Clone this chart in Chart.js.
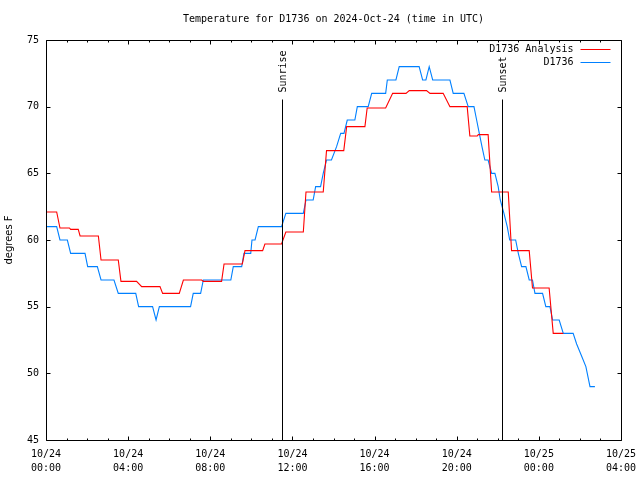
<!DOCTYPE html>
<html>
<head>
<meta charset="utf-8">
<script src="https://cdn.jsdelivr.net/npm/chart.js@4"></script>
<style>
  html, body { margin: 0; padding: 0; background: #fff; }
  #wrap { width: 640px; height: 480px; }
</style>
</head>
<body>
<div id="wrap"><canvas id="tempChart" width="640" height="480"></canvas></div>
<script>
// ---- Data (hours since 10/24 00:00 UTC, degrees F) ----
const analysisHours = [0, 0.52, 0.68, 1.14, 1.2, 1.57, 1.66, 2.55, 2.68, 3.52, 3.65, 4.41, 4.66, 5.55,
  5.68, 6.49, 6.69, 7.58, 7.66, 8.55, 8.67, 9.56, 9.69, 10.55, 10.66, 11.47, 11.68, 12.53, 12.66, 13.5,
  13.66, 14.5, 14.64, 15.53, 15.64, 16.54, 16.88, 17.53, 17.69, 18.53, 18.7, 19.34, 19.67, 20.51,
  20.64, 21.0, 21.05, 21.53, 21.7, 22.51, 22.67, 23.53, 23.69, 24.5, 24.7, 25.19];
const analysisTemps = [62.1, 62.1, 60.9, 60.9, 60.8, 60.8, 60.3, 60.3, 58.5, 58.5, 56.9, 56.9, 56.5, 56.5,
  56.0, 56.0, 57.0, 57.0, 56.9, 56.9, 58.2, 58.2, 59.2, 59.2, 59.7, 59.7, 60.6, 60.6, 63.6, 63.6,
  66.7, 66.7, 68.5, 68.5, 69.9, 69.9, 71.0, 71.0, 71.2, 71.2, 71.0, 71.0, 70.0, 70.0,
  67.8, 67.8, 67.9, 67.9, 63.6, 63.6, 59.2, 59.2, 56.4, 56.4, 53.0, 53.0];

const obsHours = [0, 0.52, 0.68, 1.04, 1.2, 1.9, 2.03, 2.5, 2.68, 3.31, 3.52, 4.37, 4.51, 5.19, 5.36, 5.52,
  7.04, 7.17, 7.53, 7.66, 9.0, 9.12, 9.53, 9.64, 9.97, 10.03, 10.18, 10.34, 11.47, 11.68, 12.53, 12.66,
  13.01, 13.13, 13.37, 13.5, 13.66, 13.9, 14.15, 14.35, 14.51, 14.67, 15.04, 15.16, 15.69, 15.86,
  16.54, 16.62, 17.04, 17.2, 18.17, 18.34, 18.5, 18.66, 18.83, 19.67, 19.83, 20.35, 20.56, 20.84,
  20.97, 21.1, 21.23, 21.37, 21.53, 21.7, 21.86, 22.02, 22.12, 22.3, 22.46, 22.58, 22.87, 23.0,
  23.16, 23.37, 23.53, 23.69, 23.81, 24.18, 24.34, 24.54, 24.67, 24.99, 25.19, 25.67, 25.84,
  26.08, 26.29, 26.49, 26.73];
const obsTemps = [61, 61, 60, 60, 59, 59, 58, 58, 57, 57, 56, 56, 55, 55, 54, 55,
  55, 56, 56, 57, 57, 58, 58, 59, 59, 60, 60, 61, 61, 62, 62, 63,
  63, 64, 64, 65, 66, 66, 67, 68, 68, 69, 69, 70, 70, 71,
  71, 72, 72, 73, 73, 72, 72, 73, 72, 72, 71, 71, 70, 70,
  69, 68, 67, 66, 66, 65, 65, 64, 63, 62, 61, 60, 60, 59,
  58, 58, 57, 57, 56, 56, 55, 55, 54, 54, 53, 53, 52.2,
  51.3, 50.5, 49, 49];

const xTickLabels = [
  ['10/24', '00:00'], ['10/24', '04:00'], ['10/24', '08:00'], ['10/24', '12:00'],
  ['10/24', '16:00'], ['10/24', '20:00'], ['10/25', '00:00'], ['10/25', '04:00']
];
const sunEvents = ['Sunrise', 'Sunset'];
const sunHours  = [11.47, 22.21];

const seriesNames = ['D1736 Analysis', 'D1736'];
const chartTitle  = 'Temperature for D1736 on 2024-Oct-24 (time in UTC)';

// ---- Axis limits ----
const X_MIN = 0, X_MAX = 28, X_STEP = 4;
const Y_MIN = 45, Y_MAX = 75, Y_STEP = 5;

const MONO = '"DejaVu Sans Mono", "Liberation Mono", monospace';

const toPoints = (xs, ys) => xs.map((x, i) => ({ x, y: ys[i] }));

// gnuplot-ish frame: border box, inward ticks, sun markers, key, title
const gnuplotFrame = {
  id: 'gnuplotFrame',
  afterDatasetsDraw(chart) {
    const { ctx, chartArea: a, scales: { x, y } } = chart;
    const L = Math.round(a.left) + 0.5, R = Math.round(a.right) + 0.5;
    const T = Math.round(a.top) + 0.5,  B = Math.round(a.bottom) + 0.5;
    ctx.save();
    ctx.strokeStyle = '#000';
    ctx.lineWidth = 1;

    ctx.beginPath();
    // hourly ticks top & bottom
    for (let h = X_MIN; h <= X_MAX; h++) {
      const px = Math.round(x.getPixelForValue(h)) + 0.5;
      const len = h % X_STEP === 0 ? 4 : 2;
      ctx.moveTo(px, B); ctx.lineTo(px, B - len);
      ctx.moveTo(px, T); ctx.lineTo(px, T + len);
    }
    for (let t = Y_MIN; t <= Y_MAX; t += Y_STEP) {
      const py = Math.round(y.getPixelForValue(t)) + 0.5;
      ctx.moveTo(L, py); ctx.lineTo(L + 4, py);
      ctx.moveTo(R, py); ctx.lineTo(R - 4, py);
    }
    ctx.rect(L, T, R - L, B - T);
    ctx.stroke();

    // sunrise / sunset markers
    ctx.font = '10px ' + MONO;
    ctx.fillStyle = '#000';
    sunHours.forEach((h, i) => {
      const px = Math.round(x.getPixelForValue(h)) + 0.5;
      ctx.beginPath();
      ctx.moveTo(px, T + 59);
      ctx.lineTo(px, B);
      ctx.stroke();
      ctx.save();
      ctx.translate(px + 1, T + 52);
      ctx.rotate(-Math.PI / 2);
      ctx.textAlign = 'left';
      ctx.textBaseline = 'middle';
      ctx.fillText(sunEvents[i], 0, 0);
      ctx.restore();
    });

    // key (text then line sample, top right)
    ctx.textAlign = 'right';
    ctx.textBaseline = 'middle';
    chart.data.datasets.forEach((ds, i) => {
      const ky = Math.round(T + 8 + i * 13) + 0.5;
      ctx.fillStyle = '#000';
      ctx.fillText(ds.label, R - 48, ky);
      ctx.strokeStyle = ds.borderColor;
      ctx.beginPath();
      ctx.moveTo(R - 41, ky);
      ctx.lineTo(R - 11, ky);
      ctx.stroke();
    });

    // title, centred over the plot area
    ctx.fillStyle = '#000';
    ctx.textAlign = 'center';
    ctx.fillText(chartTitle, (a.left + a.right) / 2, 19);
    ctx.restore();
  }
};

const ctx = document.getElementById('tempChart').getContext('2d');
new Chart(ctx, {
  type: 'line',
  data: {
    datasets: [
      {
        label: seriesNames[0],
        data: toPoints(analysisHours, analysisTemps),
        borderColor: '#ff0000',
        borderWidth: 1.1,
        pointRadius: 0,
        tension: 0
      },
      {
        label: seriesNames[1],
        data: toPoints(obsHours, obsTemps),
        borderColor: '#0080ff',
        borderWidth: 1.1,
        pointRadius: 0,
        tension: 0
      }
    ]
  },
  options: {
    responsive: false,
    animation: false,
    events: [],
    layout: { padding: { left: 0, right: 19, top: 40, bottom: 0 } },
    plugins: {
      legend: { display: false },
      tooltip: { enabled: false },
      title: { display: false }
    },
    scales: {
      x: {
        type: 'linear',
        min: X_MIN,
        max: X_MAX,
        grid: { display: false, drawTicks: false },
        border: { display: false },
        afterFit: s => { s.height = 40; s.paddingLeft = 0; s.paddingRight = 0; },
        afterBuildTicks: s => {
          s.ticks = xTickLabels.map((_, i) => ({ value: X_MIN + i * X_STEP }));
        },
        ticks: {
          autoSkip: false,
          maxRotation: 0,
          padding: 7,
          color: '#000',
          font: { family: MONO, size: 10, lineHeight: 1.4 },
          callback: (v, i) => xTickLabels[i]
        }
      },
      y: {
        min: Y_MIN,
        max: Y_MAX,
        grid: { display: false, drawTicks: false },
        border: { display: false },
        afterFit: s => { s.width = 46; s.paddingTop = 0; s.paddingBottom = 0; },
        ticks: {
          stepSize: Y_STEP,
          padding: 7,
          color: '#000',
          font: { family: MONO, size: 10 }
        },
        title: {
          display: true,
          text: 'degrees F',
          color: '#000',
          padding: { top: 3, bottom: 0 },
          font: { family: '"DejaVu Sans", sans-serif', size: 10 }
        }
      }
    }
  },
  plugins: [gnuplotFrame]
});
</script>
</body>
</html>
